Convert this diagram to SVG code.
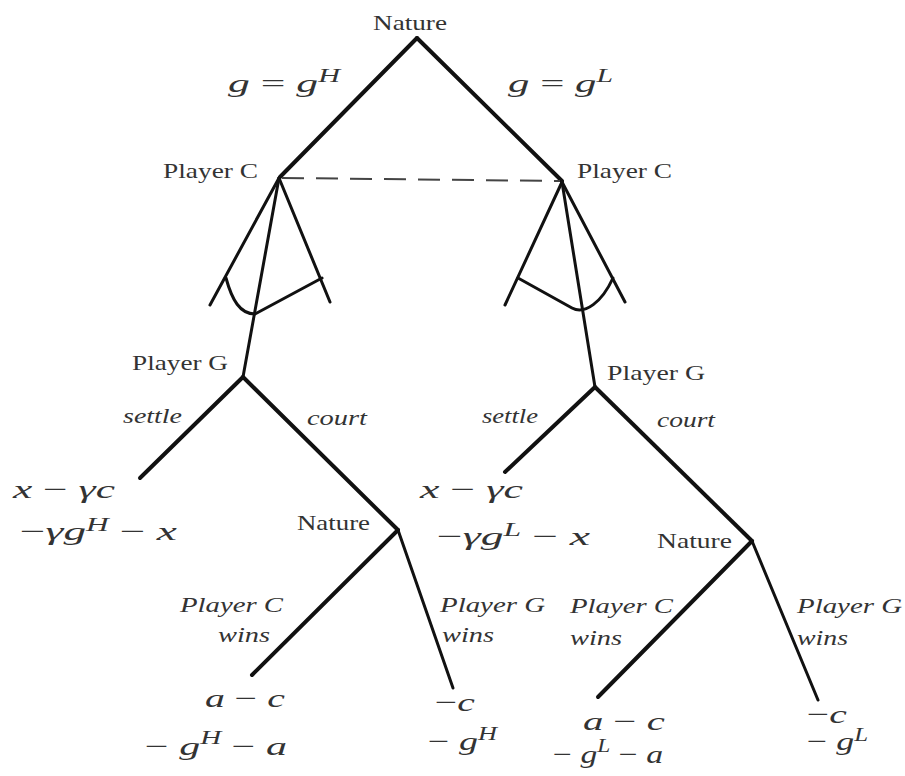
<svg xmlns="http://www.w3.org/2000/svg" width="905" height="776" viewBox="0 0 905 776">
<style>
.e{stroke:#111;stroke-width:4;fill:none;stroke-linecap:round;stroke-linejoin:round}
.f{stroke:#111;stroke-width:3;fill:none;stroke-linecap:round;stroke-linejoin:round}
.d{stroke:#444;stroke-width:2;fill:none;stroke-dasharray:22 12}
.n{font-family:"Liberation Serif","Times New Roman",serif;font-size:21px;fill:#333}
.it{font-family:"Liberation Serif","Times New Roman",serif;font-style:italic;font-size:21px;fill:#333}
.m{font-family:"Liberation Serif","Times New Roman",serif;font-size:26px;fill:#333}
.v{font-style:italic}
.s{font-style:italic;font-size:18px}
</style>
<rect width="905" height="776" fill="#fff"/>
<g id="connectors">
<path class="e" d="M417,38 L280,177"/>
<path class="e" d="M417,38 L562,181"/>
<path class="d" d="M282,178 L560,181"/>
<path class="f" d="M279,178 L210,305"/>
<path class="f" d="M279,178 L243,377"/>
<path class="f" d="M279,178 L330,302"/>
<path class="f" d="M226,278 C232,300 240,314 255,314 L322,278"/>
<path class="f" d="M562,182 L505,305"/>
<path class="f" d="M562,182 L595,387"/>
<path class="f" d="M562,182 L625,302"/>
<path class="f" d="M518,278 L572,308 C585,315 602,302 613,278"/>
<path class="e" d="M243,377 L140,478"/>
<path class="e" d="M243,377 L398,530"/>
<path class="e" d="M398,530 L252,675"/>
<path class="f" d="M398,530 L453,688"/>
<path class="e" d="M595,387 L505,472"/>
<path class="e" d="M595,387 L752,541"/>
<path class="e" d="M752,541 L598,697"/>
<path class="f" d="M752,541 L818,700"/>
</g>
<g id="nature-root"><text class="n" x="373" y="30" textLength="74" lengthAdjust="spacingAndGlyphs">Nature</text></g>
<g id="label-gH"><text class="m" x="228" y="92" textLength="112" lengthAdjust="spacingAndGlyphs"><tspan class="v">g</tspan> = <tspan class="v">g</tspan><tspan class="s" dy="-10">H</tspan></text></g>
<g id="label-gL"><text class="m" x="508" y="92" textLength="105" lengthAdjust="spacingAndGlyphs"><tspan class="v">g</tspan> = <tspan class="v">g</tspan><tspan class="s" dy="-10">L</tspan></text></g>
<g id="playerC-left"><text class="n" x="163" y="178" textLength="95" lengthAdjust="spacingAndGlyphs">Player C</text></g>
<g id="playerC-right"><text class="n" x="577" y="178" textLength="95" lengthAdjust="spacingAndGlyphs">Player C</text></g>
<g id="playerG-left"><text class="n" x="132" y="370" textLength="96" lengthAdjust="spacingAndGlyphs">Player G</text>
<text class="it" x="123" y="423" textLength="59" lengthAdjust="spacingAndGlyphs">settle</text>
<text class="it" x="307" y="425" textLength="60" lengthAdjust="spacingAndGlyphs">court</text></g>
<g id="playerG-right"><text class="n" x="607" y="380" textLength="98" lengthAdjust="spacingAndGlyphs">Player G</text>
<text class="it" x="482" y="423" textLength="56" lengthAdjust="spacingAndGlyphs">settle</text>
<text class="it" x="657" y="427" textLength="58" lengthAdjust="spacingAndGlyphs">court</text></g>
<g id="settle-left"><text class="m" x="13" y="498" textLength="102" lengthAdjust="spacingAndGlyphs"><tspan class="v">x</tspan> − <tspan class="v">γc</tspan></text>
<text class="m" x="20" y="540" textLength="157" lengthAdjust="spacingAndGlyphs">−<tspan class="v">γg</tspan><tspan class="s" dy="-9">H</tspan><tspan dy="9"> − </tspan><tspan class="v">x</tspan></text></g>
<g id="settle-right"><text class="m" x="420" y="498" textLength="103" lengthAdjust="spacingAndGlyphs"><tspan class="v">x</tspan> − <tspan class="v">γc</tspan></text>
<text class="m" x="437" y="545" textLength="153" lengthAdjust="spacingAndGlyphs">−<tspan class="v">γg</tspan><tspan class="s" dy="-9">L</tspan><tspan dy="9"> − </tspan><tspan class="v">x</tspan></text></g>
<g id="nature-left"><text class="n" x="297" y="530" textLength="73" lengthAdjust="spacingAndGlyphs">Nature</text>
<text class="it" x="180" y="612" textLength="103" lengthAdjust="spacingAndGlyphs">Player C</text>
<text class="it" x="218" y="642" textLength="52" lengthAdjust="spacingAndGlyphs">wins</text>
<text class="it" x="440" y="612" textLength="105" lengthAdjust="spacingAndGlyphs">Player G</text>
<text class="it" x="442" y="642" textLength="52" lengthAdjust="spacingAndGlyphs">wins</text></g>
<g id="nature-right"><text class="n" x="657" y="548" textLength="75" lengthAdjust="spacingAndGlyphs">Nature</text>
<text class="it" x="570" y="613" textLength="103" lengthAdjust="spacingAndGlyphs">Player C</text>
<text class="it" x="570" y="645" textLength="52" lengthAdjust="spacingAndGlyphs">wins</text>
<text class="it" x="797" y="613" textLength="105" lengthAdjust="spacingAndGlyphs">Player G</text>
<text class="it" x="797" y="645" textLength="51" lengthAdjust="spacingAndGlyphs">wins</text></g>
<g id="payoff-CH"><text class="m" x="205" y="707" textLength="80" lengthAdjust="spacingAndGlyphs"><tspan class="v">a</tspan> − <tspan class="v">c</tspan></text>
<text class="m" x="145" y="755" textLength="142" lengthAdjust="spacingAndGlyphs">− <tspan class="v">g</tspan><tspan class="s" dy="-11">H</tspan><tspan dy="11">  − </tspan><tspan class="v">a</tspan></text></g>
<g id="payoff-GH"><text class="m" x="435" y="711" textLength="40" lengthAdjust="spacingAndGlyphs">−<tspan class="v">c</tspan></text>
<text class="m" x="428" y="750" textLength="69" lengthAdjust="spacingAndGlyphs">− <tspan class="v">g</tspan><tspan class="s" dy="-10">H</tspan></text></g>
<g id="payoff-CL"><text class="m" x="583" y="730" textLength="82" lengthAdjust="spacingAndGlyphs"><tspan class="v">a</tspan> − <tspan class="v">c</tspan></text>
<text class="m" x="553" y="763" textLength="110" lengthAdjust="spacingAndGlyphs">− <tspan class="v">g</tspan><tspan class="s" dy="-11">L</tspan><tspan dy="11"> − </tspan><tspan class="v">a</tspan></text></g>
<g id="payoff-GL"><text class="m" x="807" y="723" textLength="40" lengthAdjust="spacingAndGlyphs">−<tspan class="v">c</tspan></text>
<text class="m" x="807" y="750" textLength="61" lengthAdjust="spacingAndGlyphs">− <tspan class="v">g</tspan><tspan class="s" dy="-9">L</tspan></text></g>
</svg>
